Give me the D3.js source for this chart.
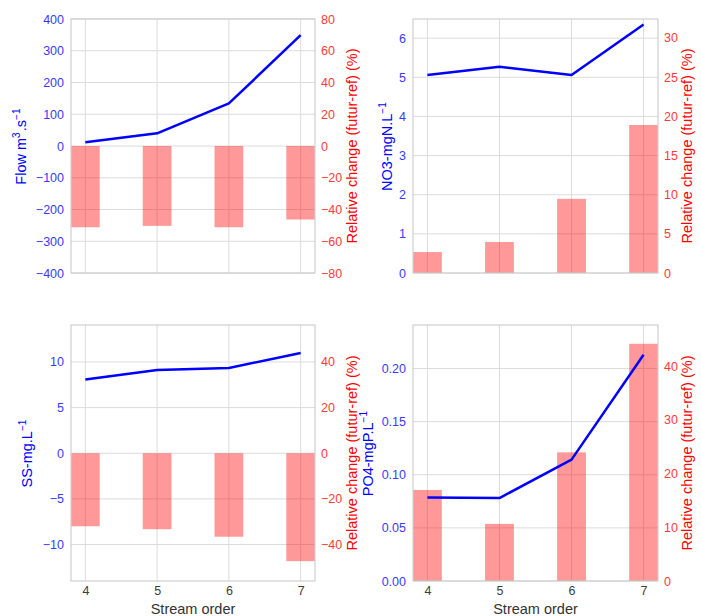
<!DOCTYPE html>
<html>
<head>
<meta charset="utf-8">
<script src="https://cdn.jsdelivr.net/npm/d3@7"></script>
<style>
  html, body { margin: 0; padding: 0; background: #fff; }
  svg { display: block; font-family: "Liberation Sans", Arial, sans-serif; }
</style>
</head>
<body>
<svg id="chart" width="701" height="616"></svg>
<script>
// Stream orders on the shared x axis
const streamOrder = [4, 5, 6, 7];

// Flow (m3/s) and its relative change (%)
const flow = [12, 40, 134, 349];
const flowChange = [-51.2, -50.3, -51.2, -46.3];

// Nitrate (mgN/L) and its relative change (%)
const no3 = [5.06, 5.27, 5.06, 6.35];
const no3Change = [2.67, 3.95, 9.46, 18.88];

// Suspended solids (mg/L) and its relative change (%)
const ss = [8.07, 9.12, 9.34, 10.99];
const ssChange = [-32.0, -33.3, -36.6, -47.3];

// Phosphate (mgP/L) and its relative change (%)
const po4 = [0.0787, 0.0781, 0.1143, 0.213];
const po4Change = [16.96, 10.64, 23.97, 44.2];

// Tick values for each axis
const flowTicks = [-400, -300, -200, -100, 0, 100, 200, 300, 400];
const flowChangeTicks = [-80, -60, -40, -20, 0, 20, 40, 60, 80];
const no3Ticks = [0, 1, 2, 3, 4, 5, 6];
const no3ChangeTicks = [0, 5, 10, 15, 20, 25, 30];
const ssTicks = [-10, -5, 0, 5, 10];
const ssChangeTicks = [-40, -20, 0, 20, 40];
const po4Ticks = [0, 0.05, 0.10, 0.15, 0.20];
const po4ChangeTicks = [0, 10, 20, 30, 40];

const xLabel = "Stream order";
const rightLabel = "Relative change (futur-ref) (%)";

const svg = d3.select("#chart");
const BLUE = "#0000ff";
const BLUE_TXT = "#3a3aff";
const RED_TXT = "#ff3a3a";
const GRID = "#dcdcdc";

const panels = [
  { box: [71, 19, 315, 273], vals: flow, change: flowChange,
    yDom: [-400, 400], y2Dom: [-80, 80], yTicks: flowTicks, y2Ticks: flowChangeTicks,
    fmt: d3.format("d"), label: ["Flow m", ["3", true], ".s", ["\u22121", true]],
    labelX: 26, label2X: 357, showX: false },
  { box: [413, 19, 658, 273], vals: no3, change: no3Change,
    yDom: [0, 6.49], y2Dom: [0, 32.4], yTicks: no3Ticks, y2Ticks: no3ChangeTicks,
    fmt: d3.format("d"), label: ["NO3-mgN.L", ["\u22121", true]],
    labelX: 392, label2X: 692, showX: false },
  { box: [71, 325, 315, 581], vals: ss, change: ssChange,
    yDom: [-14, 14.05], y2Dom: [-56, 56.2], yTicks: ssTicks, y2Ticks: ssChangeTicks,
    fmt: d3.format("d"), label: ["SS-mg.L", ["\u22121", true]],
    labelX: 32, label2X: 357, showX: true },
  { box: [413, 325, 658, 581], vals: po4, change: po4Change,
    yDom: [0, 0.241], y2Dom: [0, 47.7], yTicks: po4Ticks, y2Ticks: po4ChangeTicks,
    fmt: d3.format(".2f"), label: ["PO4-mgP.L", ["\u22121", true]],
    labelX: 373, label2X: 692, showX: true }
];

panels.forEach(p => {
  const [x0, y0, x1, y1] = p.box;
  const g = svg.append("g");
  const x = d3.scaleLinear().domain([3.8, 7.2]).range([x0, x1]);
  const y = d3.scaleLinear().domain(p.yDom).range([y1, y0]);
  const y2 = d3.scaleLinear().domain(p.y2Dom).range([y1, y0]);

  // grid
  g.append("g").selectAll("line.h").data(p.yTicks).join("line")
    .attr("x1", x0).attr("x2", x1)
    .attr("y1", d => y(d)).attr("y2", d => y(d))
    .attr("stroke", GRID).attr("stroke-width", 1);
  g.append("g").selectAll("line.v").data(streamOrder).join("line")
    .attr("x1", d => x(d)).attr("x2", d => x(d))
    .attr("y1", y0).attr("y2", y1)
    .attr("stroke", GRID).attr("stroke-width", 1);

  // relative change bars (right axis)
  const bw = x(4.2) - x(3.8);
  g.append("g").selectAll("rect").data(streamOrder).join("rect")
    .attr("x", d => x(d - 0.2))
    .attr("width", bw)
    .attr("y", (d, i) => Math.min(y2(0), y2(p.change[i])))
    .attr("height", (d, i) => Math.abs(y2(p.change[i]) - y2(0)))
    .attr("fill", "#ff0000").attr("fill-opacity", 0.4);

  // value line (left axis)
  const line = d3.line().x((d, i) => x(streamOrder[i])).y(d => y(d));
  g.append("path").datum(p.vals)
    .attr("d", line).attr("fill", "none")
    .attr("stroke", BLUE).attr("stroke-width", 2.5)
    .attr("stroke-linejoin", "round").attr("stroke-linecap", "butt");

  // frame
  g.append("rect").attr("x", x0).attr("y", y0)
    .attr("width", x1 - x0).attr("height", y1 - y0)
    .attr("fill", "none").attr("stroke", "#cfcfcf").attr("stroke-width", 1.2);

  // left axis
  const la = g.append("g").attr("transform", `translate(${x0},0)`)
    .call(d3.axisLeft(y).tickValues(p.yTicks).tickFormat(p.fmt).tickSize(0).tickPadding(7));
  la.select(".domain").remove();
  la.selectAll("text").attr("fill", BLUE_TXT).attr("font-size", 12.5)
    .attr("font-family", "'Liberation Sans', Arial, sans-serif");

  // right axis
  const ra = g.append("g").attr("transform", `translate(${x1},0)`)
    .call(d3.axisRight(y2).tickValues(p.y2Ticks).tickFormat(d3.format("d")).tickSize(0).tickPadding(6));
  ra.select(".domain").remove();
  ra.selectAll("text").attr("fill", RED_TXT).attr("font-size", 12.5)
    .attr("font-family", "'Liberation Sans', Arial, sans-serif");

  // bottom axis
  if (p.showX) {
    const ba = g.append("g").attr("transform", `translate(0,${y1})`)
      .call(d3.axisBottom(x).tickValues(streamOrder).tickFormat(d3.format("d")).tickSize(0).tickPadding(5));
    ba.select(".domain").remove();
    ba.selectAll("text").attr("fill", "#3c3c3c").attr("font-size", 12.5)
      .attr("font-family", "'Liberation Sans', Arial, sans-serif");
    g.append("text")
      .attr("x", (x0 + x1) / 2).attr("y", 614)
      .attr("text-anchor", "middle").attr("font-size", 14.5)
      .attr("fill", "#333").text(xLabel);
  }

  // left axis label
  const cy = (y0 + y1) / 2;
  const lt = g.append("text")
    .attr("transform", `translate(${p.labelX},${cy}) rotate(-90)`)
    .attr("text-anchor", "middle").attr("font-size", 14.5).attr("fill", BLUE);
  p.label.forEach(part => {
    if (Array.isArray(part)) {
      lt.append("tspan").attr("dy", -6).attr("font-size", 10).text(part[0]);
      lt.append("tspan").attr("dy", 6).text("\u200a");
    } else {
      lt.append("tspan").text(part);
    }
  });

  // right axis label
  g.append("text")
    .attr("transform", `translate(${p.label2X},${cy}) rotate(-90)`)
    .attr("text-anchor", "middle").attr("font-size", 14.5).attr("fill", "#ff0000")
    .text(rightLabel);
});
</script>
</body>
</html>
